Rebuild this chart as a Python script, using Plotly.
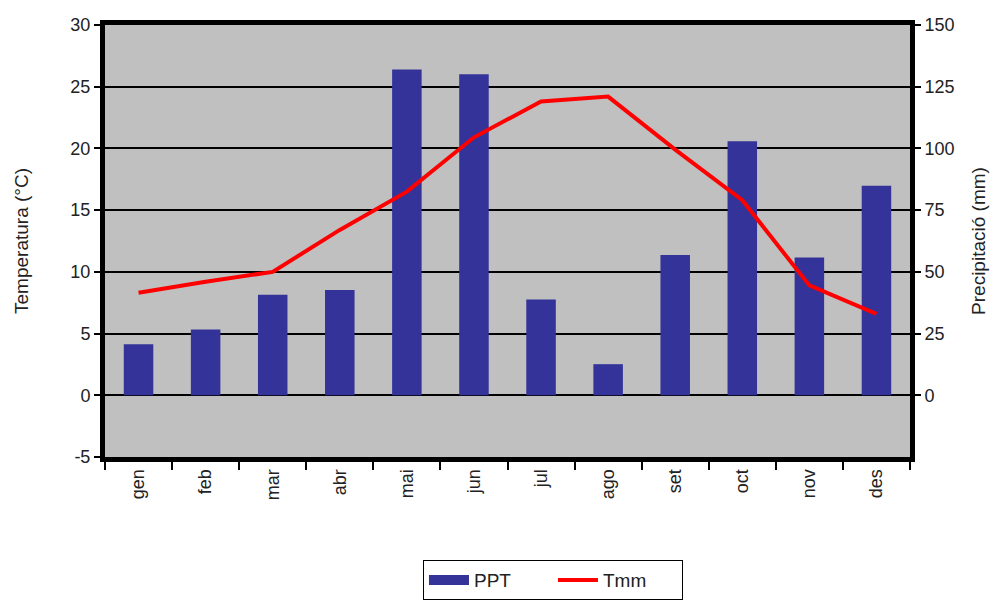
import plotly.graph_objects as go

months = ["gen", "feb", "mar", "abr", "mai", "jun", "jul", "ago", "set", "oct", "nov", "des"]
ppt = [20.7, 26.6, 40.7, 42.6, 132, 130, 38.8, 12.6, 56.8, 102.9, 55.8, 84.9]
tmm = [8.3, 9.2, 10.0, 13.4, 16.5, 20.9, 23.8, 24.2, 19.9, 15.8, 8.9, 6.6]

temp_ticks = [-5, 0, 5, 10, 15, 20, 25, 30]
ppt_ticks = [0, 25, 50, 75, 100, 125, 150]

font = "Liberation Sans, Arial, sans-serif"
blue = "#333399"
red = "#ff0000"

fig = go.Figure()
fig.add_trace(go.Bar(x=months, y=ppt, name="PPT", marker=dict(color=blue, line=dict(width=0)),
                     yaxis="y", showlegend=False))
# legend-only entry so the PPT key is drawn as a wide block like the original
fig.add_trace(go.Scatter(x=[None], y=[None], name="PPT", mode="lines",
                         line=dict(color=blue, width=15), yaxis="y"))
fig.add_trace(go.Scatter(x=months, y=tmm, name="Tmm", mode="lines",
                         line=dict(color=red, width=4), yaxis="y2"))

fig.update_layout(
    width=1006, height=604,
    margin=dict(l=97, r=104, t=17, b=155),
    paper_bgcolor="white", plot_bgcolor="#c0c0c0",
    font=dict(family=font, size=18, color="#222222"),
    bargap=0.56,
    xaxis=dict(
        type="category", tickangle=-90, showline=True, linecolor="black", linewidth=5,
        mirror=True, ticks="outside", tickson="boundaries", ticklen=8, tickwidth=2,
        tickcolor="black", showgrid=False, tickfont=dict(size=18), automargin=False,
    ),
    yaxis=dict(
        side="right", range=[-25, 150], tickvals=ppt_ticks, showgrid=True,
        gridcolor="black", gridwidth=2, zeroline=False, showline=True, linecolor="black",
        linewidth=5, ticks="outside", ticklen=6, tickwidth=2, tickcolor="black",
        automargin=False,
        title=dict(text="Precipitació (mm)", standoff=20, font=dict(size=19)),
    ),
    yaxis2=dict(
        side="left", overlaying="y", range=[-5, 30], tickvals=temp_ticks,
        ticktext=[str(v) for v in temp_ticks], showgrid=False, zeroline=False,
        showline=True, linecolor="black", linewidth=5, ticks="outside", ticklen=6,
        tickwidth=2, tickcolor="black", automargin=False,
        title=dict(text="Temperatura (°C)", standoff=38, font=dict(size=19)),
    ),
    legend=dict(
        orientation="h", xref="container", yref="container", x=0.4125, xanchor="left",
        y=0.086, yanchor="top", bordercolor="black", borderwidth=1,
        font=dict(size=19), bgcolor="white", tracegroupgap=0,
        entrywidth=74, entrywidthmode="pixels", itemwidth=40,
    ),
)

fig.write_html("out.html")
